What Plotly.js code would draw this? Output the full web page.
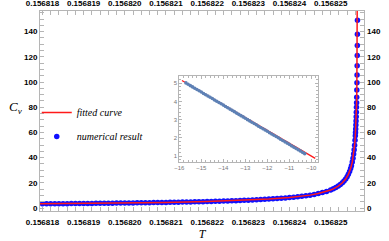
<!DOCTYPE html>
<html><head><meta charset="utf-8">
<script src="https://cdn.plot.ly/plotly-3.0.1.min.js"></script>
<style>html,body{margin:0;padding:0;background:#fff}#chart{width:389px;height:241px}</style>
</head><body><div id="chart"></div>
<script>
// numerical result (T, Cv)
const numT = [
0.1568180,0.1568181,0.1568182,0.1568183,0.1568184,0.1568185,0.1568186,0.1568187,0.1568188,0.1568189,
0.1568190,0.1568191,0.1568192,0.1568193,0.1568194,0.1568195,0.1568196,0.1568197,0.1568198,0.1568199,
0.1568200,0.1568201,0.1568202,0.1568203,0.1568204,0.1568205,0.1568206,0.1568207,0.1568208,0.1568209,
0.1568210,0.1568211,0.1568212,0.1568213,0.1568214,0.1568215,0.1568216,0.1568217,0.1568218,0.1568219,
0.1568220,0.1568221,0.1568222,0.1568223,0.1568224,0.1568225,0.1568226,0.1568227,0.1568228,0.1568229,
0.1568230,0.1568231,0.1568232,0.1568233,0.1568234,0.1568235,0.1568236,0.1568237,0.1568238,0.1568239,
0.1568240,0.1568241,0.1568242,0.1568243,0.1568244,0.1568245,0.1568246,0.1568247,0.1568248,0.1568249,
0.1568250,
0.1568250650,0.1568251250,0.1568251850,0.1568252350,0.1568252850,0.1568253250,0.1568253650,0.1568254000,
0.1568254300,0.1568254600,0.1568254850,0.1568255050,0.1568255250,0.1568255430,0.1568255580,0.1568255710,
0.1568255820,0.1568255920,0.1568255991,0.1568256040,0.1568256085,0.1568256127,0.1568256167,0.1568256205,
0.1568256239,0.1568256273,0.1568256299,0.1568256328,0.1568256360,0.1568256387,0.1568256412,0.1568256438,
0.1568256461,0.1568256480,0.1568256498,0.1568256516
];
const numCv = [
3.30,3.33,3.35,3.38,3.41,3.44,3.47,3.50,3.53,3.56,
3.59,3.62,3.66,3.69,3.72,3.76,3.80,3.84,3.88,3.92,
3.96,4.00,4.04,4.09,4.13,4.18,4.23,4.28,4.34,4.39,
4.45,4.50,4.56,4.63,4.69,4.76,4.83,4.90,4.98,5.06,
5.14,5.22,5.31,5.41,5.51,5.61,5.72,5.84,5.96,6.09,
6.22,6.37,6.52,6.68,6.86,7.05,7.25,7.47,7.71,7.97,
8.25,8.56,8.91,9.29,9.73,10.22,10.79,11.45,12.22,13.15,
14.30,
15.22,16.21,17.40,18.59,20.02,21.40,23.07,24.85,
26.71,28.98,31.34,33.63,36.43,39.57,42.81,46.27,
49.86,53.86,57.3,60.0,62.8,65.8,69.0,72.5,
76.0,80.0,83.6,88.0,93.6,99.4,105.6,113.0,
121.0,129.0,138.0,149.0
];
// fitted curve (T, Cv)
const fitT = [
0.1568179,0.1568180,0.1568190,0.1568200,0.1568210,0.1568220,0.1568230,0.1568235,0.1568240,
0.1568243,0.1568245,0.1568247,0.1568249,0.1568250,0.1568250650,0.1568251850,0.1568252850,
0.1568253650,0.1568254300,0.1568254850,0.1568255250,0.1568255580,0.1568255820,0.1568256000,
0.1568256110,0.1568256210,0.1568256290,0.1568256360,0.1568256420,0.1568256470,0.1568256516,
0.1568256560,0.1568256600
];
const fitCv = [
3.27,3.30,3.59,3.96,4.45,5.14,6.22,7.05,8.25,
9.29,10.22,11.45,13.15,14.30,15.22,17.40,20.02,
23.07,26.71,31.34,36.43,42.81,49.86,57.7,
64.5,73.0,82.3,93.7,107.7,124.7,149.0,
189.0,269.0
];
// inset data
const insetNumX = [-15.7,-15.6,-15.5,-15.4,-15.3,-15.2,-15.1,-15.0,-14.9,-14.8,-14.7,-14.6,-14.5,-14.4,-14.3,-14.2,-14.1,-14.0,
-13.9,-13.8,-13.7,-13.6,-13.5,-13.4,-13.3,-13.2,-13.1,-13.0,-12.9,-12.8,-12.7,-12.6,-12.5,-12.4,-12.3,-12.2,-12.1,-12.0,
-11.9,-11.8,-11.7,-11.6,-11.5,-11.4,-11.3,-11.2,-11.1,-11.0,-10.9,-10.8,-10.7,-10.6,-10.5,-10.4,-10.3];
const insetNumY = [5.02,4.95,4.87,4.80,4.73,4.66,4.59,4.52,4.44,4.37,4.30,4.23,4.16,4.08,4.01,3.94,3.87,3.80,
3.72,3.65,3.58,3.51,3.44,3.36,3.29,3.22,3.15,3.08,3.00,2.93,2.86,2.79,2.72,2.64,2.57,2.50,2.43,2.36,
2.28,2.21,2.14,2.07,2.00,1.92,1.85,1.78,1.71,1.64,1.56,1.49,1.42,1.35,1.28,1.20,1.13];
const insetFitX = [-15.88, -9.82];
const insetFitY = [5.15, 0.87];
// ticks
const xTicks = [0.156818,0.156819,0.156820,0.156821,0.156822,0.156823,0.156824,0.156825];
const xTickText = ['0.156818','0.156819','0.156820','0.156821','0.156822','0.156823','0.156824','0.156825'];
const yTicks = [0,20,40,60,80,100,120,140];
const insetXTicks = [-16,-15,-14,-13,-12,-11,-10];
const insetYTicks = [1,2,3,4,5];

const xRange = [0.15681794, 0.15682581];
const yRange = [-2.38, 156.4];
const frameColor = '#b5b5b5';
const tickFont = {family:'Liberation Sans, Arial, sans-serif', size:8, color:'#000', weight:'bold'};
const insetFont = {family:'Liberation Sans, Arial, sans-serif', size:6, color:'#777'};
const serif = 'Liberation Serif, Times New Roman, serif';

const traces = [
  {x:numT, y:numCv, type:'scatter', mode:'markers', name:'<i>numerical result</i>',
   marker:{color:'#1010ff', size:5.5}, xaxis:'x', yaxis:'y', legendrank:2, legendgroup:'b'},
  {x:fitT, y:fitCv, type:'scatter', mode:'lines', name:'<i>fitted curve</i>',
   line:{color:'#ff1a1a', width:1.5}, xaxis:'x', yaxis:'y', legendrank:1, legendgroup:'a'},
  // same data referenced by the mirrored (top / right) label axes, drawn fully transparent
  {x:numT, y:numCv, type:'scatter', mode:'markers', showlegend:false, hoverinfo:'skip',
   marker:{opacity:0, size:1}, xaxis:'x3', yaxis:'y'},
  {x:numT, y:numCv, type:'scatter', mode:'markers', showlegend:false, hoverinfo:'skip',
   marker:{opacity:0, size:1}, xaxis:'x', yaxis:'y3'},
  {x:insetFitX, y:insetFitY, type:'scatter', mode:'lines', showlegend:false,
   line:{color:'#ff1a1a', width:1.3}, xaxis:'x2', yaxis:'y2'},
  {x:insetNumX, y:insetNumY, type:'scatter', mode:'markers', showlegend:false,
   marker:{color:'#5e81b5', size:3.6}, xaxis:'x2', yaxis:'y2'}
];

const layout = {
  width:389, height:241,
  margin:{l:40, r:25, t:11, b:30, pad:0},
  paper_bgcolor:'#fff', plot_bgcolor:'rgba(0,0,0,0)',
  showlegend:true,
  legend:{x:-0.01, y:0.565, xanchor:'left', yanchor:'top', bgcolor:'rgba(0,0,0,0)', borderwidth:0,
          font:{family:serif, size:10, color:'#000'},
          itemwidth:30, tracegroupgap:5},
  xaxis:{range:xRange, tickmode:'array', tickvals:xTicks, ticktext:xTickText,
         showline:true, linecolor:frameColor, linewidth:1, mirror:'allticks',
         ticks:'inside', ticklen:4, tickcolor:frameColor, tickfont:tickFont, ticklabelstandoff:3,
         minor:{dtick:2e-7, tick0:0.156818, ticks:'inside', ticklen:2, tickcolor:frameColor, showgrid:false},
         showgrid:false, zeroline:false,
         title:{text:'<i>T</i>', font:{family:serif, size:12, color:'#000'}, standoff:4}},
  yaxis:{range:yRange, tickmode:'array', tickvals:yTicks,
         showline:true, linecolor:frameColor, linewidth:1, mirror:'allticks',
         ticks:'inside', ticklen:4, tickcolor:frameColor, tickfont:tickFont,
         minor:{dtick:5, tick0:0, ticks:'inside', ticklen:2, tickcolor:frameColor, showgrid:false},
         showgrid:false, zeroline:false},
  xaxis3:{range:xRange, overlaying:'x', side:'top', anchor:'y', tickmode:'array', tickvals:xTicks, ticktext:xTickText,
          ticks:'', showline:false, showgrid:false, zeroline:false, tickfont:tickFont, ticklabelstandoff:2},
  yaxis3:{range:yRange, overlaying:'y', side:'right', anchor:'x', tickmode:'array', tickvals:yTicks,
          ticks:'', showline:false, showgrid:false, zeroline:false, tickfont:tickFont, ticklabelstandoff:2},
  xaxis2:{domain:[0.430,0.857], anchor:'y2', range:[-16.0,-9.71], tickmode:'array', tickvals:insetXTicks,
          showline:true, linecolor:frameColor, linewidth:1, mirror:'allticks',
          ticks:'inside', ticklen:3, tickcolor:frameColor, tickfont:insetFont,
          minor:{dtick:0.2, tick0:-16, ticks:'inside', ticklen:1.5, tickcolor:frameColor, showgrid:false},
          showgrid:false, zeroline:false},
  yaxis2:{domain:[0.2465,0.675], anchor:'x2', range:[0.687,5.40], tickmode:'array', tickvals:insetYTicks,
          showline:true, linecolor:frameColor, linewidth:1, mirror:'allticks',
          ticks:'inside', ticklen:3, tickcolor:frameColor, tickfont:insetFont,
          minor:{dtick:0.2, tick0:0, ticks:'inside', ticklen:1.5, tickcolor:frameColor, showgrid:false},
          showgrid:false, zeroline:false},
  annotations:[
    {text:'<i>C<sub>v</sub></i>', xref:'paper', yref:'paper', x:-0.075, y:0.52, xanchor:'center', yanchor:'middle',
     showarrow:false, font:{family:serif, size:13, color:'#000'}}
  ]
};

Plotly.newPlot('chart', traces, layout, {displayModeBar:false, staticPlot:true});
</script>
</body></html>
